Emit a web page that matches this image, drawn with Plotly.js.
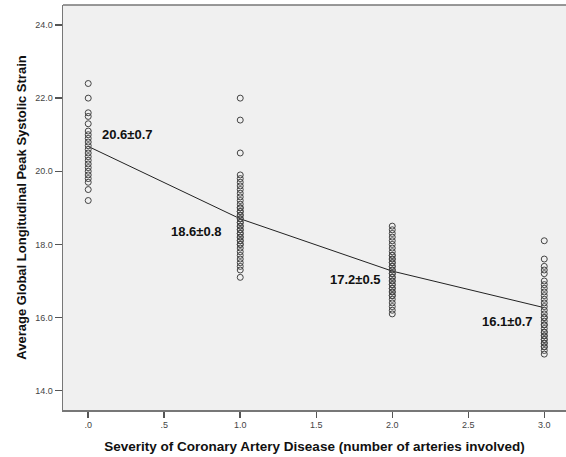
<!DOCTYPE html>
<html>
<head>
<meta charset="utf-8">
<script src="https://cdn.plot.ly/plotly-3.0.1.min.js"></script>
<style>html,body{margin:0;padding:0;background:#fff;overflow:hidden}#chart{width:566px;height:457px}</style>
</head>
<body>
<div id="chart"></div>
<script>
// Severity groups (number of arteries involved)
const groups = [0, 1, 2, 3];
// Strain values
const strain0 = [22.4, 22.0, 21.6, 21.5, 21.3, 21.1, 21.0, 20.9, 20.8, 20.7, 20.6, 20.5, 20.4, 20.3, 20.2, 20.1, 20.0, 19.9, 19.8, 19.7, 19.5, 19.2];
const strain1 = [22.0, 21.4, 20.5, 19.9, 19.8, 19.7, 19.6, 19.5, 19.4, 19.3, 19.2, 19.1, 19.0, 19.0, 18.9, 18.9, 18.8, 18.8, 18.7, 18.7, 18.6, 18.6, 18.5, 18.5, 18.4, 18.4, 18.3, 18.3, 18.2, 18.2, 18.1, 18.1, 18.0, 18.0, 17.9, 17.8, 17.7, 17.6, 17.5, 17.4, 17.3, 17.1];
const strain2 = [18.5, 18.4, 18.3, 18.2, 18.1, 18.0, 17.9, 17.8, 17.7, 17.7, 17.6, 17.6, 17.5, 17.5, 17.4, 17.4, 17.3, 17.3, 17.2, 17.2, 17.1, 17.1, 17.0, 17.0, 16.9, 16.9, 16.8, 16.8, 16.7, 16.7, 16.6, 16.6, 16.5, 16.4, 16.3, 16.2, 16.1];
const strain3 = [18.1, 17.6, 17.4, 17.3, 17.2, 17.0, 16.9, 16.8, 16.7, 16.6, 16.5, 16.4, 16.3, 16.2, 16.1, 16.0, 16.0, 15.9, 15.8, 15.8, 15.7, 15.6, 15.6, 15.5, 15.5, 15.4, 15.4, 15.3, 15.3, 15.2, 15.2, 15.1, 15.0];
// Fit line through the groups
const fitValues = [20.68, 18.70, 17.27, 16.27];
// Group labels (mean ± SD)
const labelTexts = ["20.6±0.7", "18.6±0.8", "17.2±0.5", "16.1±0.7"];
const labelY = [21.0, 18.36, 17.03, 15.88];
const labelX = [0.255, -0.29, -0.24, -0.24];
// Axis ticks
const xTickVals = [0, 0.5, 1, 1.5, 2, 2.5, 3];
const xTickText = [".0", ".5", "1.0", "1.5", "2.0", "2.5", "3.0"];
const yTickVals = [14, 16, 18, 20, 22, 24];

const series = [strain0, strain1, strain2, strain3];
const ptsX = [], ptsY = [];
series.forEach((arr, i) => arr.forEach(v => { ptsX.push(groups[i]); ptsY.push(v); }));

const traces = [
  {
    type: 'scatter', mode: 'lines', x: groups, y: fitValues,
    line: {color: '#222', width: 1}, hoverinfo: 'skip', showlegend: false
  },
  {
    type: 'scatter', mode: 'markers', x: ptsX, y: ptsY,
    marker: {symbol: 'circle-open', size: 6, color: '#444', line: {width: 1, color: '#444'}},
    showlegend: false
  }
];

const annotations = labelTexts.map((t, i) => ({
  x: groups[i] + labelX[i], y: labelY[i], xref: 'x', yref: 'y',
  text: t, showarrow: false,
  font: {family: 'Liberation Sans, Arial, sans-serif', size: 13, color: '#111', weight: 'bold'}
}));

const layout = {
  width: 566, height: 457,
  margin: {l: 63, r: 0, t: 5, b: 47},
  paper_bgcolor: '#ffffff',
  plot_bgcolor: '#f0f0f0',
  font: {family: 'Liberation Sans, Arial, sans-serif', color: '#444'},
  xaxis: {
    range: [-0.166, 3.143],
    showgrid: false, zeroline: false,
    showline: true, linecolor: '#777', linewidth: 1.5,
    ticks: 'outside', ticklen: 6, tickcolor: '#555', tickwidth: 1.5,
    tickvals: xTickVals, ticktext: xTickText,
    tickfont: {size: 9, color: '#444'},
    title: {text: 'Severity of Coronary Artery Disease (number of arteries involved)',
            font: {size: 13.5, color: '#111', weight: 'bold'}, standoff: 12}
  },
  yaxis: {
    range: [13.472, 24.547],
    showgrid: false, zeroline: false,
    showline: true, linecolor: '#777', linewidth: 1.5,
    ticks: 'outside', ticklen: 7, tickcolor: '#555', tickwidth: 1.5,
    tickvals: yTickVals, tickformat: '.1f',
    tickfont: {size: 9, color: '#444'},
    title: {text: 'Average Global Longitudinal Peak Systolic Strain',
            font: {size: 13, color: '#111', weight: 'bold'}, standoff: 5}
  },
  shapes: [
    {type: 'line', xref: 'paper', yref: 'paper', x0: 0, x1: 1, y0: 1, y1: 1,
     line: {color: '#777', width: 1.5}}
  ],
  annotations: annotations
};

Plotly.newPlot('chart', traces, layout, {displayModeBar: false, staticPlot: true});
</script>
</body>
</html>
